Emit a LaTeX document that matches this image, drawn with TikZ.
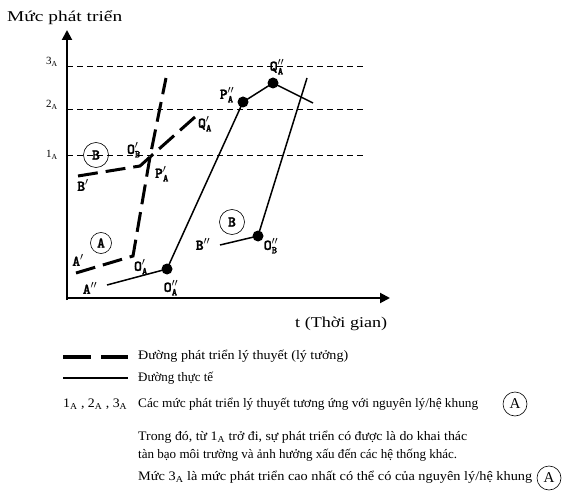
\documentclass[tikz,border=0pt]{standalone}
\usepackage{amsmath}
\usepackage{graphicx}
\usepackage{fontspec}
\setmainfont{Liberation Serif}
\newfontfamily\lblfontx{lmmonolt10-bold.otf}[FakeBold=1.6]
\newcommand{\lblfont}{\lblfontx}
\usetikzlibrary{arrows.meta}
\newcommand{\plab}[3]{{\lblfont #1}$^{#2}_{\text{\lblfont #3}}$}
\newcommand{\subA}[1]{#1$_{\text{A}}$}
\newcommand{\fitto}[2]{\resizebox{#1}{\height}{#2}}
\tikzset{
  axis/.style={line width=2pt,-{Triangle[length=10pt,width=10pt]}},
  levelline/.style={dash pattern=on 6pt off 4pt,line width=0.8pt},
  theory/.style={dash pattern=on 20pt off 8pt,line width=3pt},
  real/.style={line width=1.5pt},
  dot/.style={circle,fill=black,inner sep=0pt,minimum size=11pt},
  lbl/.style={font=\fontsize{15}{16}\selectfont,inner sep=0pt},
  circ/.style={circle,draw,line width=0.6pt,inner sep=0pt,minimum size=21pt,font=\lblfont\fontsize{15}{15}\selectfont},
  circB/.style={circ,minimum size=25pt},
  lvl/.style={font=\fontsize{11}{12}\selectfont,inner sep=0pt},
  txt/.style={font=\fontsize{13}{14}\selectfont,inner sep=0pt,anchor=west}
}
\begin{document}
\begin{tikzpicture}[x=1pt,y=-1pt]
\useasboundingbox (0,0) rectangle (562,497);
% axes
\coordinate (ystart) at (67,300);
\coordinate (ytop) at (67,30);
\coordinate (xstart) at (66,298);
\coordinate (xend) at (390,298);
\draw[axis] (ystart) -- (ytop);
\draw[axis] (xstart) -- (xend);
\node[font=\fontsize{15}{16}\selectfont,anchor=west,inner sep=0pt] (ylab) at (7,18) {\fitto{115pt}{Mức phát triển}};
\node[font=\fontsize{15}{16}\selectfont,anchor=west,inner sep=0pt] (xlab) at (295,324) {\fitto{92pt}{t (Thời gian)}};
% levels
\coordinate (l3a) at (67,66); \coordinate (l3b) at (363,66);
\coordinate (l2a) at (67,109); \coordinate (l2b) at (363,109);
\coordinate (l1a) at (67,155); \coordinate (l1b) at (363,155);
\draw[levelline] (l3a) -- (l3b);
\draw[levelline] (l2a) -- (l2b);
\draw[levelline] (l1a) -- (l1b);
\node[lvl] (t3) at (52,62) {\subA{3}};
\node[lvl] (t2) at (52,105) {\subA{2}};
\node[lvl] (t1) at (52,155) {\subA{1}};
% theoretical paths
\coordinate (Astart) at (76,273);
\coordinate (OpA) at (133,256);
\coordinate (PpA) at (150,157);
\coordinate (Atop) at (166,78);
\coordinate (Bstart) at (78,176);
\coordinate (OpB) at (140,166);
\coordinate (QpA) at (195,117);
\draw[theory] (Astart) -- (OpA) -- (PpA) -- (Atop);
\draw[theory] (Bstart) -- (OpB) -- (PpA);
\draw[theory] (QpA) -- (PpA);
% real paths
\coordinate (Adstart) at (107,285);
\node[dot] (OddA) at (167,269) {};
\node[dot] (PddA) at (243,102) {};
\node[dot] (QddA) at (273,83) {};
\coordinate (Aend) at (313,103);
\draw[real] (Adstart) -- (OddA.center) -- (PddA.center) -- (QddA.center) -- (Aend);
\node[dot] (OddB) at (258,236) {};
\coordinate (Btop) at (307,78);
\coordinate (Bdstart) at (220,245);
\draw[real] (Btop) -- (OddB.center);
\draw[real] (Bdstart) -- (OddB.center);
% circles
\node[circ] (cA) at (101,243) {A};
\node[circB] (cB1) at (96,155) {B};
\node[circB] (cB2) at (232,222) {B};
% labels
\node[lbl] (lBp) at (83,187) {\plab{B}{\prime}{}};
\node[lbl] (lOpB) at (134,150) {\plab{O}{\prime}{B}};
\node[lbl] (lPpA) at (162,174) {\plab{P}{\prime}{A}};
\node[lbl] (lQpA) at (205,124) {\plab{Q}{\prime}{A}};
\node[lbl] (lAp) at (78,262) {\plab{A}{\prime}{}};
\node[lbl] (lOpA) at (141,267) {\plab{O}{\prime}{A}};
\node[lbl] (lAdd) at (90,290) {\plab{A}{\prime\prime}{}};
\node[lbl] (lOddA) at (171,288) {\plab{O}{\prime\prime}{A}};
\node[lbl] (lBdd) at (203,246) {\plab{B}{\prime\prime}{}};
\node[lbl] (lOddB) at (271,246) {\plab{O}{\prime\prime}{B}};
\node[lbl] (lPddA) at (227,95) {\plab{P}{\prime\prime}{A}};
\node[lbl] (lQddA) at (277,67) {\plab{Q}{\prime\prime}{A}};
% legend
\coordinate (g1a) at (63,357); \coordinate (g1b) at (128,357);
\draw[line width=4pt,dash pattern=on 28pt off 10pt] (g1a) -- (g1b);
\coordinate (g2a) at (63,378); \coordinate (g2b) at (128,378);
\draw[line width=1.3pt] (g2a) -- (g2b);
\node[txt] (tx1) at (138,356) {\fitto{210pt}{Đường phát triển lý thuyết (lý tưởng)}};
\node[txt] (tx2) at (138,378) {\fitto{75pt}{Đường thực tế}};
\node[txt] (tx3l) at (63,404) {\fitto{64pt}{\subA{1} , \subA{2} , \subA{3}}};
\node[txt] (tx3) at (138,404) {\fitto{340pt}{Các mức phát triển lý thuyết tương ứng với nguyên lý/hệ khung}};
\node[circ,minimum size=24pt,font=\fontsize{15}{15}\selectfont] (cA2) at (515,404) {A};
\node[txt] (tx4) at (138,437) {\fitto{329pt}{Trong đó, từ \subA{1} trở đi, sự phát triển có được là do khai thác}};
\node[txt] (tx5) at (138,455) {\fitto{319pt}{tàn bạo môi trường và ảnh hưởng xấu đến các hệ thống khác.}};
\node[txt] (tx6) at (138,477) {\fitto{394pt}{Mức \subA{3} là mức phát triển cao nhất có thể có của nguyên lý/hệ khung}};
\node[circ,minimum size=24pt,font=\fontsize{15}{15}\selectfont] (cA3) at (549,478) {A};
\end{tikzpicture}
\end{document}
